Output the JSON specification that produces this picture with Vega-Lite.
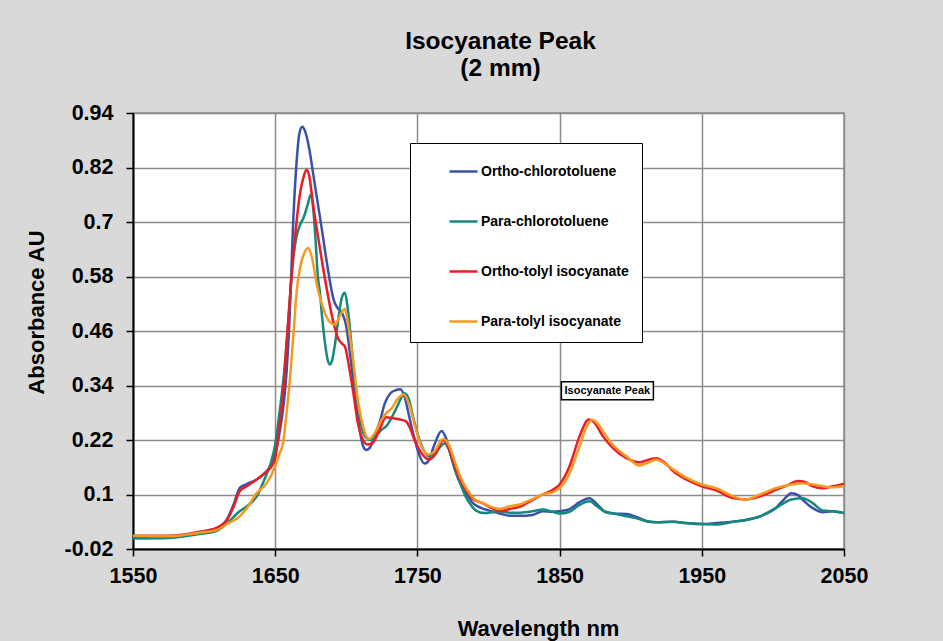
{
  "$schema": "https://vega.github.io/schema/vega-lite/v6.json",
  "width": 711,
  "height": 436,
  "autosize": {"type": "none"},
  "padding": {"left": 133, "top": 113, "right": 99, "bottom": 92},
  "background": "#d9d9d9",
  "config": {
    "font": "Liberation Sans",
    "view": {"stroke": "#8c8c8c", "strokeWidth": 1.5, "fill": "white"}
  },
  "title": {
    "text": ["Isocyanate Peak", "(2 mm)"],
    "font": "Liberation Sans",
    "fontSize": 24.5,
    "fontWeight": "bold",
    "color": "black",
    "anchor": "middle",
    "dx": 12,
    "offset": 21,
    "lineHeight": 27
  },
  "datasets": {
    "oc": [
      {"nm":1550,"au":0.006},{"nm":1575,"au":0.007},{"nm":1597,"au":0.017},{"nm":1609,"au":0.026},{"nm":1616,"au":0.045},{"nm":1621,"au":0.08},{"nm":1625,"au":0.114},{"nm":1630,"au":0.123},{"nm":1637,"au":0.133},{"nm":1644,"au":0.151},{"nm":1647,"au":0.165},{"nm":1650,"au":0.19},{"nm":1653,"au":0.235},{"nm":1656,"au":0.3},{"nm":1658,"au":0.37},{"nm":1660,"au":0.48},{"nm":1662.5,"au":0.69},{"nm":1665,"au":0.83},{"nm":1667,"au":0.895},{"nm":1669,"au":0.91},{"nm":1671,"au":0.9},{"nm":1674,"au":0.86},{"nm":1677,"au":0.8},{"nm":1680,"au":0.74},{"nm":1683,"au":0.68},{"nm":1686,"au":0.617},{"nm":1689,"au":0.56},{"nm":1691,"au":0.53},{"nm":1694,"au":0.51},{"nm":1697,"au":0.5},{"nm":1700,"au":0.47},{"nm":1703,"au":0.4},{"nm":1706,"au":0.324},{"nm":1709,"au":0.25},{"nm":1712,"au":0.205},{"nm":1714,"au":0.198},{"nm":1717,"au":0.205},{"nm":1720,"au":0.23},{"nm":1724,"au":0.265},{"nm":1727,"au":0.3},{"nm":1731,"au":0.323},{"nm":1735,"au":0.33},{"nm":1738,"au":0.332},{"nm":1741,"au":0.315},{"nm":1744,"au":0.275},{"nm":1747,"au":0.235},{"nm":1751,"au":0.19},{"nm":1755,"au":0.168},{"nm":1758,"au":0.175},{"nm":1762,"au":0.21},{"nm":1767,"au":0.24},{"nm":1770,"au":0.225},{"nm":1774,"au":0.18},{"nm":1778,"au":0.14},{"nm":1782,"au":0.115},{"nm":1789,"au":0.081},{"nm":1795,"au":0.07},{"nm":1800,"au":0.065},{"nm":1808,"au":0.058},{"nm":1815,"au":0.053},{"nm":1822,"au":0.053},{"nm":1831,"au":0.055},{"nm":1838,"au":0.063},{"nm":1845,"au":0.062},{"nm":1850,"au":0.063},{"nm":1857,"au":0.068},{"nm":1864,"au":0.083},{"nm":1871,"au":0.092},{"nm":1876,"au":0.08},{"nm":1882,"au":0.062},{"nm":1888,"au":0.058},{"nm":1897,"au":0.057},{"nm":1906,"au":0.048},{"nm":1912,"au":0.041},{"nm":1918,"au":0.039},{"nm":1930,"au":0.04},{"nm":1939,"au":0.037},{"nm":1950,"au":0.035},{"nm":1960,"au":0.037},{"nm":1972,"au":0.04},{"nm":1981,"au":0.044},{"nm":1991,"au":0.052},{"nm":2002,"au":0.07},{"nm":2008,"au":0.09},{"nm":2013,"au":0.103},{"nm":2018,"au":0.098},{"nm":2021,"au":0.088},{"nm":2028,"au":0.07},{"nm":2035,"au":0.061},{"nm":2042,"au":0.063},{"nm":2050,"au":0.059}
    ],
    "pc": [
      {"nm":1550,"au":0.003},{"nm":1575,"au":0.004},{"nm":1597,"au":0.013},{"nm":1609,"au":0.02},{"nm":1616,"au":0.036},{"nm":1625,"au":0.063},{"nm":1630,"au":0.074},{"nm":1637,"au":0.096},{"nm":1644,"au":0.145},{"nm":1647,"au":0.17},{"nm":1650,"au":0.21},{"nm":1653,"au":0.28},{"nm":1656,"au":0.36},{"nm":1659,"au":0.47},{"nm":1662,"au":0.6},{"nm":1665,"au":0.668},{"nm":1667.5,"au":0.694},{"nm":1670,"au":0.71},{"nm":1673,"au":0.74},{"nm":1675,"au":0.76},{"nm":1677,"au":0.72},{"nm":1678.5,"au":0.654},{"nm":1680,"au":0.58},{"nm":1681.5,"au":0.544},{"nm":1683,"au":0.49},{"nm":1685,"au":0.434},{"nm":1687,"au":0.395},{"nm":1688.5,"au":0.386},{"nm":1690,"au":0.395},{"nm":1692,"au":0.43},{"nm":1695,"au":0.5},{"nm":1697,"au":0.535},{"nm":1699,"au":0.544},{"nm":1701,"au":0.51},{"nm":1703.5,"au":0.434},{"nm":1706,"au":0.35},{"nm":1708.5,"au":0.287},{"nm":1711,"au":0.245},{"nm":1714,"au":0.225},{"nm":1717.5,"au":0.22},{"nm":1721,"au":0.23},{"nm":1725,"au":0.243},{"nm":1728,"au":0.25},{"nm":1732,"au":0.27},{"nm":1736,"au":0.295},{"nm":1741,"au":0.323},{"nm":1744,"au":0.31},{"nm":1747,"au":0.27},{"nm":1750,"au":0.235},{"nm":1754,"au":0.2},{"nm":1758.5,"au":0.184},{"nm":1762,"au":0.19},{"nm":1766,"au":0.205},{"nm":1769,"au":0.213},{"nm":1772,"au":0.2},{"nm":1776,"au":0.16},{"nm":1780,"au":0.125},{"nm":1784,"au":0.095},{"nm":1788,"au":0.075},{"nm":1791,"au":0.065},{"nm":1797,"au":0.059},{"nm":1808,"au":0.063},{"nm":1815,"au":0.06},{"nm":1822,"au":0.06},{"nm":1831,"au":0.063},{"nm":1838,"au":0.067},{"nm":1845,"au":0.062},{"nm":1850,"au":0.058},{"nm":1857,"au":0.062},{"nm":1864,"au":0.077},{"nm":1871,"au":0.085},{"nm":1876,"au":0.075},{"nm":1882,"au":0.062},{"nm":1888,"au":0.058},{"nm":1897,"au":0.052},{"nm":1906,"au":0.046},{"nm":1912,"au":0.04},{"nm":1918,"au":0.039},{"nm":1930,"au":0.04},{"nm":1939,"au":0.037},{"nm":1950,"au":0.035},{"nm":1960,"au":0.034},{"nm":1972,"au":0.04},{"nm":1981,"au":0.044},{"nm":1991,"au":0.052},{"nm":2002,"au":0.07},{"nm":2013,"au":0.089},{"nm":2021,"au":0.092},{"nm":2028,"au":0.081},{"nm":2035,"au":0.065},{"nm":2042,"au":0.063},{"nm":2050,"au":0.059}
    ],
    "ot": [
      {"nm":1550,"au":0.009},{"nm":1575,"au":0.009},{"nm":1597,"au":0.018},{"nm":1609,"au":0.027},{"nm":1616,"au":0.043},{"nm":1621,"au":0.075},{"nm":1625,"au":0.107},{"nm":1630,"au":0.118},{"nm":1637,"au":0.133},{"nm":1644,"au":0.151},{"nm":1647,"au":0.16},{"nm":1650,"au":0.18},{"nm":1653,"au":0.25},{"nm":1656,"au":0.34},{"nm":1658,"au":0.434},{"nm":1660,"au":0.52},{"nm":1662.5,"au":0.617},{"nm":1665,"au":0.7},{"nm":1667.5,"au":0.764},{"nm":1670,"au":0.8},{"nm":1672,"au":0.815},{"nm":1674,"au":0.8},{"nm":1676.5,"au":0.742},{"nm":1680,"au":0.67},{"nm":1683.5,"au":0.602},{"nm":1687,"au":0.54},{"nm":1691,"au":0.478},{"nm":1694,"au":0.445},{"nm":1697,"au":0.432},{"nm":1699,"au":0.426},{"nm":1702,"au":0.38},{"nm":1705,"au":0.323},{"nm":1708,"au":0.26},{"nm":1711,"au":0.225},{"nm":1715,"au":0.21},{"nm":1719,"au":0.215},{"nm":1723,"au":0.24},{"nm":1728,"au":0.27},{"nm":1733,"au":0.268},{"nm":1738,"au":0.265},{"nm":1742,"au":0.261},{"nm":1745,"au":0.245},{"nm":1748,"au":0.22},{"nm":1752,"au":0.195},{"nm":1758.5,"au":0.177},{"nm":1763,"au":0.19},{"nm":1768,"au":0.22},{"nm":1771,"au":0.21},{"nm":1775,"au":0.175},{"nm":1779,"au":0.14},{"nm":1783,"au":0.115},{"nm":1789,"au":0.09},{"nm":1796,"au":0.081},{"nm":1802,"au":0.07},{"nm":1808,"au":0.063},{"nm":1815,"au":0.068},{"nm":1822,"au":0.073},{"nm":1831,"au":0.088},{"nm":1838,"au":0.1},{"nm":1845,"au":0.11},{"nm":1850,"au":0.122},{"nm":1857,"au":0.162},{"nm":1864,"au":0.228},{"nm":1870.5,"au":0.265},{"nm":1874,"au":0.26},{"nm":1880.5,"au":0.228},{"nm":1887.5,"au":0.202},{"nm":1897,"au":0.18},{"nm":1906,"au":0.171},{"nm":1912,"au":0.176},{"nm":1918,"au":0.18},{"nm":1924,"au":0.17},{"nm":1930,"au":0.151},{"nm":1939,"au":0.133},{"nm":1950,"au":0.118},{"nm":1960,"au":0.109},{"nm":1972,"au":0.092},{"nm":1981,"au":0.089},{"nm":1991,"au":0.096},{"nm":2002,"au":0.11},{"nm":2010,"au":0.12},{"nm":2017.5,"au":0.13},{"nm":2022,"au":0.128},{"nm":2028,"au":0.118},{"nm":2035,"au":0.114},{"nm":2042,"au":0.118},{"nm":2050,"au":0.124}
    ],
    "pt": [
      {"nm":1550,"au":0.009},{"nm":1575,"au":0.008},{"nm":1597,"au":0.016},{"nm":1609,"au":0.022},{"nm":1616,"au":0.035},{"nm":1625,"au":0.052},{"nm":1630,"au":0.07},{"nm":1637,"au":0.103},{"nm":1644,"au":0.125},{"nm":1650,"au":0.162},{"nm":1653,"au":0.19},{"nm":1655.5,"au":0.213},{"nm":1658,"au":0.28},{"nm":1660.5,"au":0.36},{"nm":1663,"au":0.46},{"nm":1665,"au":0.544},{"nm":1667.5,"au":0.6},{"nm":1670,"au":0.628},{"nm":1673,"au":0.643},{"nm":1676,"au":0.62},{"nm":1679,"au":0.566},{"nm":1682,"au":0.528},{"nm":1686,"au":0.492},{"nm":1689,"au":0.478},{"nm":1692,"au":0.474},{"nm":1695,"au":0.49},{"nm":1699,"au":0.509},{"nm":1701,"au":0.48},{"nm":1705,"au":0.39},{"nm":1708,"au":0.31},{"nm":1711,"au":0.26},{"nm":1714,"au":0.228},{"nm":1716,"au":0.222},{"nm":1720,"au":0.235},{"nm":1724,"au":0.26},{"nm":1728,"au":0.279},{"nm":1732,"au":0.29},{"nm":1736,"au":0.31},{"nm":1740.5,"au":0.32},{"nm":1744,"au":0.3},{"nm":1749,"au":0.243},{"nm":1753,"au":0.205},{"nm":1757.5,"au":0.188},{"nm":1762,"au":0.195},{"nm":1768,"au":0.222},{"nm":1772,"au":0.21},{"nm":1776,"au":0.175},{"nm":1780,"au":0.14},{"nm":1785,"au":0.11},{"nm":1790,"au":0.09},{"nm":1796,"au":0.081},{"nm":1801,"au":0.074},{"nm":1808,"au":0.068},{"nm":1815,"au":0.074},{"nm":1822,"au":0.078},{"nm":1831,"au":0.09},{"nm":1838,"au":0.1},{"nm":1845,"au":0.105},{"nm":1850,"au":0.114},{"nm":1857,"au":0.147},{"nm":1864,"au":0.206},{"nm":1869,"au":0.25},{"nm":1873.5,"au":0.264},{"nm":1877,"au":0.255},{"nm":1880.5,"au":0.239},{"nm":1887.5,"au":0.209},{"nm":1897,"au":0.184},{"nm":1906,"au":0.164},{"nm":1912,"au":0.17},{"nm":1918,"au":0.177},{"nm":1924,"au":0.168},{"nm":1930,"au":0.155},{"nm":1939,"au":0.137},{"nm":1950,"au":0.122},{"nm":1960,"au":0.114},{"nm":1972,"au":0.096},{"nm":1981,"au":0.089},{"nm":1991,"au":0.1},{"nm":2002,"au":0.114},{"nm":2013,"au":0.122},{"nm":2021,"au":0.125},{"nm":2028,"au":0.122},{"nm":2035,"au":0.118},{"nm":2042,"au":0.116},{"nm":2050,"au":0.118}
    ],
    "note": [
      {"nm": 1883.6, "au": 0.3285, "label": "Isocyanate Peak"}
    ]
  },
  "encoding": {
    "x": {
      "field": "nm",
      "type": "quantitative",
      "scale": {"domain": [1550, 2050], "nice": false, "zero": false},
      "axis": {
        "values": [1550, 1650, 1750, 1850, 1950, 2050],
        "format": "d",
        "grid": true,
        "gridColor": "#8c8c8c",
        "gridWidth": 1.5,
        "domainColor": "black",
        "domainWidth": 2,
        "tickColor": "black",
        "tickWidth": 1.5,
        "tickSize": 7,
        "labelFont": "Liberation Sans",
        "labelFontSize": 21.5,
        "labelFontWeight": "bold",
        "labelColor": "black",
        "labelPadding": 9,
        "labelFlush": false,
        "labelOverlap": false,
        "title": "Wavelength nm",
        "titleFont": "Liberation Sans",
        "titleFontSize": 22,
        "titleFontWeight": "bold",
        "titleColor": "black",
        "titleBaseline": "alphabetic",
        "titleX": 405,
        "titleY": 86
      }
    },
    "y": {
      "field": "au",
      "type": "quantitative",
      "scale": {"domain": [-0.02, 0.94], "nice": false, "zero": false},
      "axis": {
        "values": [-0.02, 0.1, 0.22, 0.34, 0.46, 0.58, 0.7, 0.82, 0.94],
        "labelExpr": "replace(format(datum.value, '.2~f'), '\u2212', '-')",
        "grid": true,
        "gridColor": "#8c8c8c",
        "gridWidth": 1.5,
        "domainColor": "black",
        "domainWidth": 2,
        "tickColor": "black",
        "tickWidth": 1.5,
        "tickSize": 7,
        "labelFont": "Liberation Sans",
        "labelFontSize": 21.5,
        "labelFontWeight": "bold",
        "labelColor": "black",
        "labelPadding": 13,
        "labelOverlap": false,
        "labelFlush": false,
        "title": "Absorbance AU",
        "titleFont": "Liberation Sans",
        "titleFontSize": 22,
        "titleFontWeight": "bold",
        "titleColor": "black",
        "titleBaseline": "alphabetic",
        "titleX": -90,
        "titleY": 199
      }
    }
  },
  "layer": [
    {
      "data": {"name": "oc"},
      "mark": {"type": "line", "interpolate": "monotone", "strokeWidth": 2.5},
      "encoding": {
        "color": {
          "datum": "Ortho-chlorotoluene",
          "type": "nominal",
          "scale": {
            "domain": ["Ortho-chlorotoluene", "Para-chlorotoluene", "Ortho-tolyl isocyanate", "Para-tolyl isocyanate"],
            "range": ["#3a51a8", "#15897c", "#ec1c24", "#f9981d"]
          },
          "legend": {
            "title": null,
            "orient": "none",
            "legendX": 277,
            "legendY": 30,
            "fillColor": "white",
            "strokeColor": "black",
            "padding": 13,
            "rowPadding": 27,
            "symbolType": "stroke",
            "symbolSize": 784,
            "symbolStrokeWidth": 2.5,
            "symbolOffset": 25,
            "labelOffset": 2,
            "labelFont": "Liberation Sans",
            "labelFontSize": 14,
            "labelFontWeight": "bold",
            "labelColor": "black",
            "labelLimit": 400
          }
        }
      }
    },
    {
      "data": {"name": "pc"},
      "mark": {"type": "line", "interpolate": "monotone", "strokeWidth": 2.5},
      "encoding": {"color": {"datum": "Para-chlorotoluene", "type": "nominal"}}
    },
    {
      "data": {"name": "ot"},
      "mark": {"type": "line", "interpolate": "monotone", "strokeWidth": 2.5},
      "encoding": {"color": {"datum": "Ortho-tolyl isocyanate", "type": "nominal"}}
    },
    {
      "data": {"name": "pt"},
      "mark": {"type": "line", "interpolate": "monotone", "strokeWidth": 2.5},
      "encoding": {"color": {"datum": "Para-tolyl isocyanate", "type": "nominal"}}
    },
    {
      "data": {"name": "note"},
      "mark": {"type": "rect", "width": 92, "height": 18, "fill": "white", "stroke": "black", "strokeWidth": 1.5}
    },
    {
      "data": {"name": "note"},
      "mark": {"type": "text", "font": "Liberation Sans", "fontSize": 11, "fontWeight": "bold", "color": "black", "align": "center", "baseline": "middle"},
      "encoding": {"text": {"field": "label"}}
    }
  ]
}
